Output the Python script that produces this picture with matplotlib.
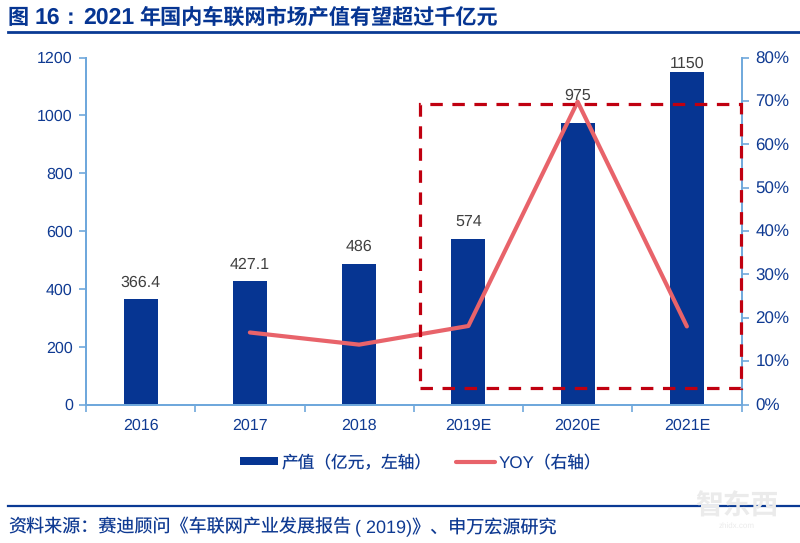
import matplotlib
matplotlib.use("Agg")
import matplotlib.pyplot as plt
from matplotlib.patches import Rectangle
from matplotlib.lines import Line2D

plt.rcParams['font.family'] = ['Liberation Sans', 'Noto Sans CJK SC', 'DejaVu Sans']
plt.rcParams['text.hinting'] = 'no_hinting'
plt.rcParams['text.hinting_factor'] = 1

categories = ['2016', '2017', '2018', '2019E', '2020E', '2021E']
output_values = [366.4, 427.1, 486, 574, 975, 1150]
output_labels = ['366.4', '427.1', '486', '574', '975', '1150']
yoy_categories = ['2017', '2018', '2019E', '2020E', '2021E']
yoy_values = [16.6, 13.8, 18.1, 69.8, 18.0]
left_ticks = [0, 200, 400, 600, 800, 1000, 1200]
right_ticks = [0, 10, 20, 30, 40, 50, 60, 70, 80]

label_offsets = [5.9, 6.0, 6.8, 6.7, 13.9, 0.3]

NAVY = '#063592'
TEXT = '#0F3A92'
AXIS = '#6FA8DC'
LINE = '#E8636A'
RED = '#C00010'
W, H = 800, 543

fig = plt.figure(figsize=(W / 100, H / 100), dpi=100, facecolor='white')
L, R, T, B = 86, 741.5, 57.5, 404.5
ax = fig.add_axes([L / W, 1 - B / H, (R - L) / W, (B - T) / H])
xs = list(range(len(categories)))
ax.bar(xs, output_values, width=0.31, color=NAVY, zorder=2)
ax.set_xlim(-0.5, 5.5)
ax.set_ylim(0, 1200)
ax.set_yticks(left_ticks)
ax.set_xticks([x - 0.5 for x in range(7)])
ax.set_xticklabels([])
ax.set_xticks(xs, minor=True)
ax.set_xticklabels(categories, minor=True, fontsize=11.5, color=TEXT)
ax.tick_params(axis='x', which='minor', length=0, pad=10)
ax.tick_params(axis='x', which='major', length=5, width=1.2, color=AXIS)
ax.tick_params(axis='y', length=5, width=1.2, color=AXIS, labelcolor=TEXT, labelsize=11.7, pad=4.5)

ax2 = ax.twinx()
ax2.set_ylim(0, 80)
ax2.set_yticks(right_ticks)
ax2.set_yticklabels([f'{t}%' for t in right_ticks])
ax2.tick_params(axis='y', length=5, width=1.2, color=AXIS, labelcolor=TEXT, labelsize=12, pad=5)
ax2.plot([categories.index(c) for c in yoy_categories], yoy_values, color=LINE, lw=3,
         solid_capstyle='round', zorder=4)

for x, v, s, off in zip(xs, output_values, output_labels, label_offsets):
    ax2.annotate(s, (x, v), xycoords=ax.transData, xytext=(0, off), textcoords='offset points',
                 ha='center', va='bottom', fontsize=11.8, color='#404040', zorder=5)

for a in (ax, ax2):
    a.spines['top'].set_visible(False)
    for s in ('left', 'right', 'bottom'):
        a.spines[s].set_color(AXIS)
        a.spines[s].set_linewidth(1.4)
ax.spines['right'].set_visible(False)

# Highlight box, in figure pixels
fig.add_artist(Rectangle((420 / W, 1 - 388 / H), 321 / W, 284.5 / H, transform=fig.transFigure,
                         fill=False, ec=RED, lw=2.3, ls=(0, (3.9, 3.0)), zorder=6))

# Title and rules
title_y = 1 - 24 / H
title_style = dict(fontweight='bold', color=NAVY, va='baseline', ha='left')
fig.text(8 / W, title_y, '图', fontsize=15.2, **title_style)
fig.text(35 / W, title_y, '16', fontsize=16.5, **title_style)
fig.text(67 / W, title_y, ':', fontsize=16.5, **title_style)
fig.text(83 / W, title_y, '2021', fontsize=16.5, **title_style)
fig.text(139 / W, title_y, '年国内车联网市场产值有望超过千亿元', fontsize=15.2, **title_style)
fig.add_artist(Line2D([8 / W, 1], [1 - 31.5 / H] * 2, color='#0A3A94', lw=2))
fig.add_artist(Line2D([8 / W, 1], [1 - 505.5 / H] * 2, color='#0A3A94', lw=1.6))
source_y = 1 - 527 / H
fig.text(8 / W, source_y, '资料来源：赛迪顾问《车联网产业发展报告', fontsize=13, color=TEXT, va='center', ha='left')
fig.text(355 / W, source_y, '( 2019)》、申万宏源研究', fontsize=13, color=TEXT, va='center', ha='left')

# Legend
fig.add_artist(Rectangle((240 / W, 1 - 465 / H), 38 / W, 8 / H, transform=fig.transFigure,
                         fc=NAVY, ec='none'))
fig.text(282 / W, 1 - 463.5 / H, '产值（亿元，左轴）', fontsize=12, color=TEXT, va='center', ha='left')
fig.add_artist(Line2D([456 / W, 495 / W], [1 - 461.5 / H] * 2, color=LINE, lw=3, solid_capstyle='round'))
fig.text(499 / W, 1 - 463.5 / H, 'YOY（右轴）', fontsize=12, color=TEXT, va='center', ha='left')

# Watermark
fig.text(737 / W, 1 - 507 / H, '智东西', fontsize=20, color='#EBEBEB', va='center', ha='center',
         fontweight='bold', zorder=7)
fig.text(737 / W, 1 - 526 / H, 'zhidx.com', fontsize=5.5, color='#EBEBEB', va='center', ha='center', zorder=7)

fig.savefig('out.png', dpi=100)
